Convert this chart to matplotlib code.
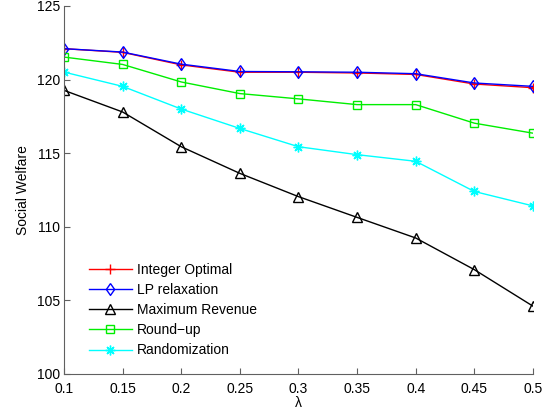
#Import Packages
import numpy as np
import matplotlib
matplotlib.use('Agg')
import matplotlib.pyplot as plt

#Data
lam = [0.1, 0.15, 0.2, 0.25, 0.3, 0.35, 0.4, 0.45, 0.5]
integer_opt = [122.1, 121.85, 121.0, 120.5, 120.5, 120.45, 120.35, 119.7, 119.45]
lp_relax = [122.1, 121.87, 121.05, 120.55, 120.53, 120.5, 120.4, 119.77, 119.54]
max_revenue = [119.27, 117.8, 115.44, 113.63, 112.05, 110.64, 109.24, 107.09, 104.61]
round_up = [121.53, 121.03, 119.84, 119.05, 118.69, 118.3, 118.3, 117.04, 116.36]
randomization = [120.51, 119.54, 118.0, 116.68, 115.44, 114.9, 114.45, 112.4, 111.42]

xticks = [0.1, 0.15, 0.2, 0.25, 0.3, 0.35, 0.4, 0.45, 0.5]
xticklabels = ['0.1', '0.15', '0.2', '0.25', '0.3', '0.35', '0.4', '0.45', '0.5']
yticks = [100, 105, 110, 115, 120, 125]

plt.rcParams['font.family'] = ['Liberation Sans', 'DejaVu Sans']
plt.rcParams['font.size'] = 10

# matlab-like markers
diamond = [(0, 1), (0.7, 0), (0, -1), (-0.7, 0), (0, 1)]
asterisk = (8, 2, 0)

#Plot
fig = plt.figure(figsize=(5.53, 4.19), dpi=100)
ax = fig.add_axes([0.1157, 0.1074, 0.848, 0.8783])

ax.plot(lam, integer_opt, color='red', marker='+', ms=7, mew=1, lw=1, label='Integer Optimal')
ax.plot(lam, lp_relax, color='blue', marker=diamond, ms=8.5, mfc='none', mew=1, lw=1, label='LP relaxation')
ax.plot(lam, max_revenue, color='black', marker='^', ms=7, mfc='none', mew=1, lw=1, label='Maximum Revenue')
ax.plot(lam, round_up, color='#00ee00', marker='s', ms=5.5, mfc='none', mew=1, lw=1, label='Round\u2212up')
ax.plot(lam, randomization, color='cyan', marker=asterisk, ms=7, mew=1, lw=1, label='Randomization')

ax.set_xlim(0.1, 0.5)
ax.set_ylim(100, 125)
ax.set_xticks(xticks)
ax.set_xticklabels(xticklabels)
ax.set_yticks(yticks)

for side in ['top', 'right']:
    ax.spines[side].set_visible(False)
for side in ['left', 'bottom']:
    ax.spines[side].set_color('#606060')
ax.tick_params(direction='in', length=4, color='#606060')
ax.tick_params(axis='x', pad=6)
ax.tick_params(axis='y', pad=3)

ax.set_xlabel('\u03bb', labelpad=0)
ax.set_ylabel('Social Welfare', labelpad=5)

ax.legend(loc='lower left', bbox_to_anchor=(0.053, 0.045), frameon=False,
          borderaxespad=0, borderpad=0, handlelength=3.1,
          labelspacing=0.44, handletextpad=0.36)

plt.savefig('out.png', dpi=100)
